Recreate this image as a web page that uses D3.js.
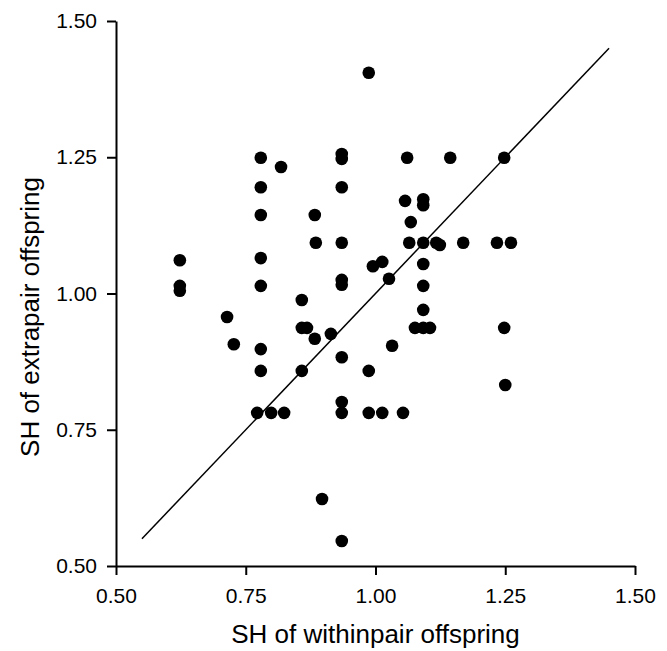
<!DOCTYPE html>
<html>
<head>
<meta charset="utf-8">
<script src="https://cdn.jsdelivr.net/npm/d3@7"></script>
<style>
  body { margin: 0; background: #fff; }
  svg { display: block; font-family: "Liberation Sans", Arial, sans-serif; }
</style>
</head>
<body>
<div class="chart"></div>
<script>
// SH of withinpair offspring (x) vs SH of extrapair offspring (y)
let withinPair = [
  0.623, 0.623, 0.623,
  0.714, 0.727,
  0.779, 0.779, 0.779, 0.779, 0.779, 0.779, 0.779,
  0.772, 0.799, 0.824,
  0.818,
  0.883, 0.885,
  0.858, 0.858, 0.868, 0.858,
  0.883, 0.914,
  0.897, 0.935,
  0.935, 0.935, 0.935, 0.935, 0.935, 0.935, 0.935, 0.935, 0.935,
  0.987, 0.987, 0.987, 1.013, 1.053,
  0.995, 1.013, 1.026, 1.032,
  1.061, 1.144, 1.248,
  1.057, 1.092, 1.092, 1.068,
  1.065, 1.092, 1.117, 1.124, 1.169, 1.234, 1.261,
  1.092, 1.092, 1.092, 1.076, 1.092, 1.105,
  1.248, 1.250
];

let extraPair = [
  1.061, 1.014, 1.005,
  0.957, 0.907,
  1.249, 1.195, 1.144, 1.065, 1.014, 0.898, 0.858,
  0.781, 0.781, 0.781,
  1.232,
  1.144, 1.093,
  0.988, 0.937, 0.937, 0.858,
  0.917, 0.926,
  0.623, 0.546,
  1.256, 1.247, 1.195, 1.093, 1.025, 1.016, 0.883, 0.801, 0.781,
  1.405, 0.858, 0.781, 0.781, 0.781,
  1.050, 1.058, 1.027, 0.904,
  1.249, 1.249, 1.249,
  1.170, 1.173, 1.162, 1.131,
  1.093, 1.093, 1.093, 1.089, 1.093, 1.093, 1.093,
  1.054, 1.014, 0.970, 0.937, 0.937, 0.937,
  0.937, 0.832
];

let tickValues = [0.50, 0.75, 1.00, 1.25, 1.50];
let refLine = [0.55, 1.45]; // y = x line ends

let points = withinPair.map((d, i) => ({ x: d, y: extraPair[i] }));

let margin = { top: 21, left: 116 };
let width = 519;
let height = 545;

let svg = d3.select('.chart')
  .append('svg')
  .attr('width', 667)
  .attr('height', 651);

let g = svg.append('g')
  .attr('transform', `translate(${margin.left},${margin.top})`);

let x = d3.scaleLinear().domain([0.5, 1.5]).range([0, width]);
let y = d3.scaleLinear().domain([0.5, 1.5]).range([height, 0]);

let xAxis = g.append('g')
  .attr('transform', `translate(0,${height})`)
  .call(d3.axisBottom(x).tickValues(tickValues).tickFormat(d3.format('.2f'))
    .tickSize(9).tickSizeOuter(0).tickPadding(13));

let yAxis = g.append('g')
  .call(d3.axisLeft(y).tickValues(tickValues).tickFormat(d3.format('.2f'))
    .tickSize(9).tickSizeOuter(0).tickPadding(10));

[xAxis, yAxis].forEach(a => {
  a.select('.domain').attr('stroke', '#000').attr('stroke-width', 2);
  a.selectAll('.tick line').attr('stroke', '#000').attr('stroke-width', 2);
  a.selectAll('.tick text')
    .attr('fill', '#000')
    .style('font-size', '21px')
    .style('font-family', '"Liberation Sans", Arial, sans-serif');
});

let line = d3.line()
  .x(d => x(d))
  .y(d => y(d));

g.append('path')
  .attr('d', line(refLine))
  .attr('stroke', '#000')
  .attr('stroke-width', 1.5)
  .attr('fill', 'none');

g.selectAll('circle')
  .data(points)
  .enter()
  .append('circle')
  .attr('cx', d => x(d.x))
  .attr('cy', d => y(d.y))
  .attr('r', 6.3)
  .attr('fill', '#000');

svg.append('text')
  .attr('x', margin.left + width / 2)
  .attr('y', 643)
  .attr('text-anchor', 'middle')
  .style('font-size', '26px')
  .text('SH of withinpair offspring');

svg.append('text')
  .attr('transform', 'translate(39,317) rotate(-90)')
  .attr('text-anchor', 'middle')
  .style('font-size', '26px')
  .text('SH of extrapair offspring');
</script>
</body>
</html>
